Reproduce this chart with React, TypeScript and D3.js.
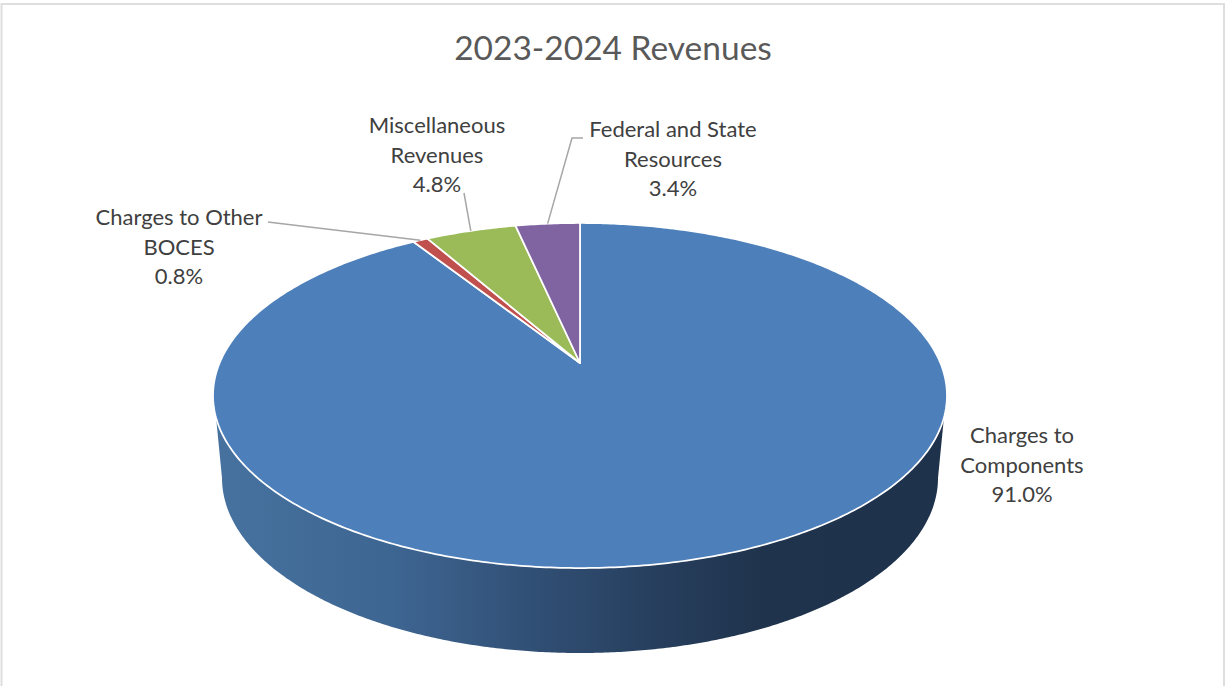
import React from 'react';
import * as d3 from 'd3';

const title = '2023-2024 Revenues';
const categories = ['Charges to Components', 'Charges to Other BOCES', 'Miscellaneous Revenues', 'Federal and State Resources'];
const shares = [91.0, 0.8, 4.8, 3.4];
const shareLabels = ['91.0%', '0.8%', '4.8%', '3.4%'];
const labelLines = [['Charges to', 'Components'], ['Charges to Other', 'BOCES'], ['Miscellaneous', 'Revenues'], ['Federal and State', 'Resources']];
const colors = ['#4d7fbb', '#c0504d', '#9bbb59', '#8064a2'];

const width = 1225;
const height = 686;

// Where the centre of the pie lands on the page, and the perspective tilt
const cx = 580;
const cy = 363;
const scaleX = 360.4;
const scaleY = 166.4;
const tilt = 0.1884;

// Lower rim of the side wall
const base = { cx: 580, cy: 478, rx: 358, ry: 175 };
const wallTop = 417;

// Label layout: centre x and first baseline, then the elbow of each leader line
const labelPos = [
  { x: 1022, y: 443 },
  { x: 179, y: 225 },
  { x: 437, y: 133 },
  { x: 673, y: 137 }
];
const leaders: ([number, number][] | null)[] = [
  null,
  [[276, 223], [268, 222]],
  [[464, 193]],
  [[572, 138], [583, 138]]
];

const project = (a: number): [number, number] => {
  const u = Math.sin(a);
  const v = Math.cos(a);
  const d = 1 + tilt * v;
  return [cx + (scaleX * u) / d, cy - (scaleY * v) / d];
};

const line = d3.line<[number, number]>().x(d => d[0]).y(d => d[1]);

const pie = d3.pie<number>().sort(null).value(d => d).startAngle(0).endAngle(2 * Math.PI);
const arcs = pie(shares);

const slicePath = (a0: number, a1: number) => {
  const n = Math.max(2, Math.ceil((a1 - a0) * 90));
  const rim = d3.range(n + 1).map(i => project(a0 + ((a1 - a0) * i) / n));
  return line([[cx, cy], ...rim])! + 'Z';
};

const topRim = d3.range(721).map(i => project((i / 720) * 2 * Math.PI)).filter(p => p[1] >= wallTop);
const baseRim = d3.range(361).map(i => {
  const a = Math.PI - (i / 360) * Math.PI;
  return [base.cx + base.rx * Math.cos(a), base.cy + base.ry * Math.sin(a)] as [number, number];
});
const wallPath = line([...topRim, ...baseRim])! + 'Z';

const font = 'Lato, "Open Sans", sans-serif';

export default function App() {
  return (
    <svg width={width} height={height} style={{ position: 'fixed', left: 0, top: 0, background: '#fff' }}>
      <defs>
        <linearGradient id="wall" gradientUnits="userSpaceOnUse" x1={213} x2={947} y1={0} y2={0}>
          <stop offset="0" stopColor="#47729f" />
          <stop offset="0.25" stopColor="#3d6591" />
          <stop offset="0.4" stopColor="#33537a" />
          <stop offset="0.6" stopColor="#273f5e" />
          <stop offset="0.75" stopColor="#1f334c" />
          <stop offset="1" stopColor="#1e324b" />
        </linearGradient>
      </defs>
      <path d={`M1.5,${height + 2}V4H1224V${height + 2}`} fill="none" stroke="#dedede" strokeWidth={2} />
      <text x={613} y={60} textAnchor="middle" fontFamily={font} fontSize={33.5} fill="#595959">{title}</text>

      <path d={wallPath} fill="url(#wall)" />
      {arcs.map((d, i) => (
        <path key={categories[i]} d={slicePath(d.startAngle, d.endAngle)} fill={colors[i]} stroke="#fff" strokeWidth={1.75} strokeLinejoin="round" />
      ))}

      {arcs.map((d, i) => {
        const elbow = leaders[i];
        if (!elbow) return null;
        const anchor = project((d.startAngle + d.endAngle) / 2);
        return <path key={i} d={line([anchor, ...elbow])!} fill="none" stroke="#a6a6a6" strokeWidth={1.5} />;
      })}

      {categories.map((c, i) => (
        <text key={c} textAnchor="middle" fontFamily={font} fontSize={22} fill="#404040">
          {[...labelLines[i], shareLabels[i]].map((t, j) => (
            <tspan key={j} x={labelPos[i].x} y={labelPos[i].y + j * 29.5}>{t}</tspan>
          ))}
        </text>
      ))}
    </svg>
  );
}
